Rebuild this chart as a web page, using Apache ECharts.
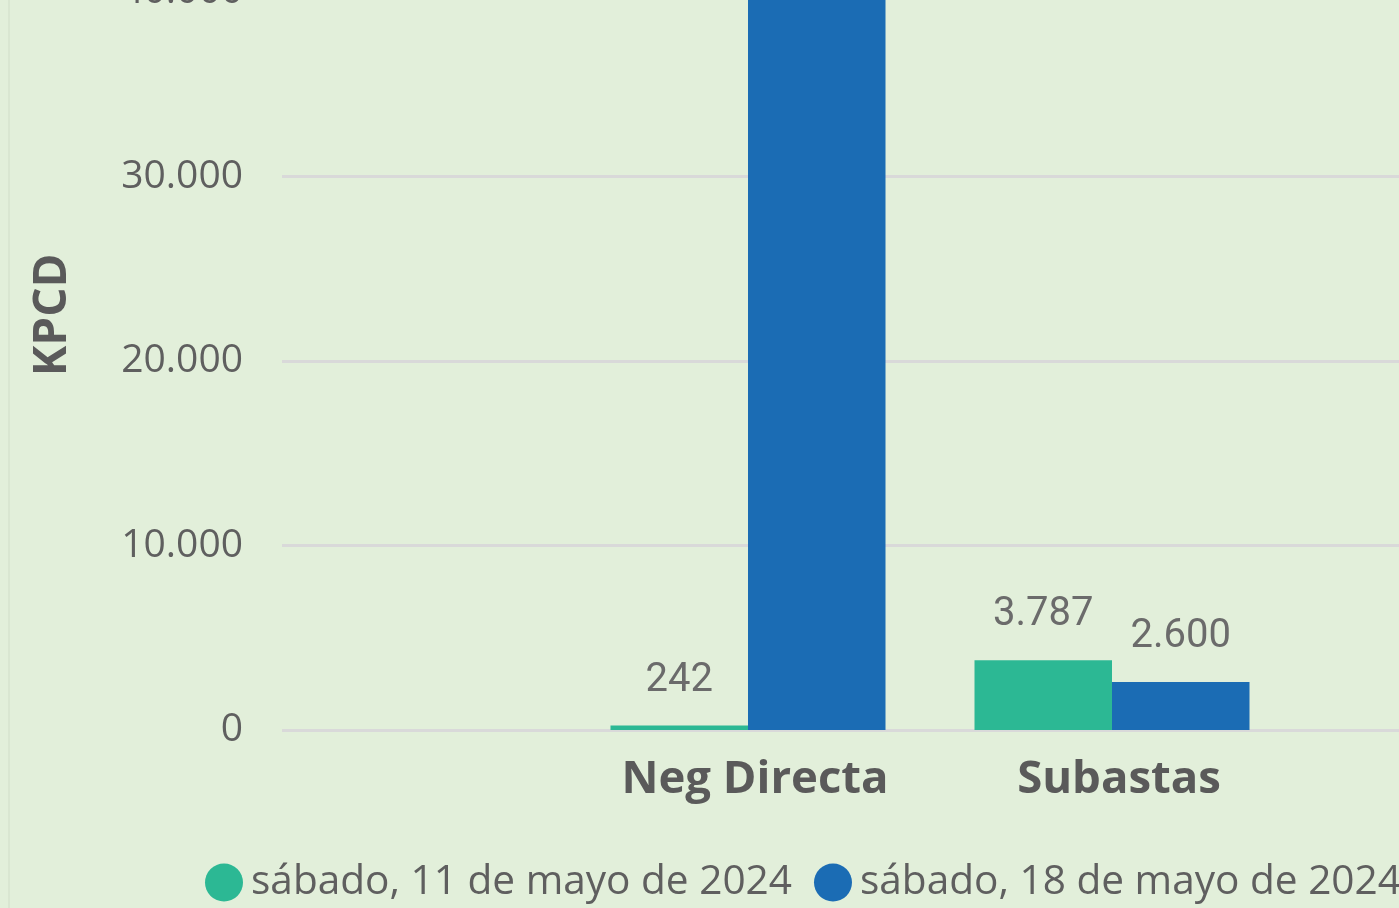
<!DOCTYPE html>
<html>
<head>
<meta charset="utf-8">
<script src="https://cdn.jsdelivr.net/npm/echarts@6/dist/echarts.min.js"></script>
<style>
  html, body { margin: 0; padding: 0; width: 1399px; height: 908px; overflow: hidden; background: #e2efda; position: relative; }
  #edge { position: absolute; left: 8px; top: 0; width: 2px; height: 908px; background: #d9e6d1; }
  #chart { position: absolute; left: 0; top: -200px; width: 1500px; height: 1108px; }
</style>
</head>
<body>
<div id="edge"></div>
<div id="chart"></div>
<script>
const categories = ['Neg Directa', 'Subastas'];
const seriesNames = ['sábado, 11 de mayo de 2024', 'sábado, 18 de mayo de 2024'];
const may11 = [242, 3787];
const may18 = [44500, 2600];
const yTicks = [0, 10000, 20000, 30000, 40000];

const fmt = v => String(v).replace(/\B(?=(\d{3})+(?!\d))/g, '.');

let myChart = echarts.init(document.getElementById('chart'));
const labelStyle = {
    show: true,
    position: 'top',
    distance: 25,
    fontFamily: 'Roboto',
    fontSize: 40,
    color: '#6b6b6b',
    formatter: p => fmt(p.value)
};
const option = {
    animation: false,
    grid: [
        { left: 282, right: 0, top: 99.75, bottom: 178 },
        { left: 566, right: 206, top: 99.75, bottom: 178 }
    ],
    legend: {
        left: 205,
        top: 1062,
        padding: 0,
        icon: 'circle',
        itemWidth: 38,
        itemHeight: 38,
        itemGap: 22,
        textStyle: { fontFamily: 'Open Sans', fontSize: 40.6, color: '#5f5f5f', padding: [0, 0, 0, 3] },
        data: seriesNames
    },
    xAxis: [
        { gridIndex: 0, type: 'category', data: [''], show: false },
        {
            gridIndex: 1, type: 'category', data: categories,
            axisLine: { show: false }, axisTick: { show: false },
            axisLabel: {
                fontFamily: 'Open Sans', fontWeight: 'bold', fontSize: 45.5, lineHeight: 50,
                color: '#5a5a5a', margin: 25, padding: [0, 0, 0, 14]
            }
        }
    ],
    yAxis: [
        {
            gridIndex: 0, type: 'value', min: 0, max: 45000, interval: 10000,
            name: 'KPCD', nameLocation: 'middle', nameGap: 206,
            nameTextStyle: { fontFamily: 'Open Sans', fontWeight: 'bold', fontSize: 46, color: '#5a5a5a' },
            axisLine: { show: false }, axisTick: { show: false },
            axisLabel: {
                fontFamily: 'Open Sans', fontSize: 39, color: '#5f5f5f', margin: 39,
                padding: [8, 0, 0, 0],
                formatter: v => yTicks.includes(v) ? fmt(v) : ''
            },
            splitLine: { lineStyle: { color: '#d9d9d9', width: 3 } }
        },
        { gridIndex: 1, type: 'value', min: 0, max: 45000, show: false, splitLine: { show: false } }
    ],
    series: [
        {
            name: seriesNames[0], type: 'bar', xAxisIndex: 1, yAxisIndex: 1,
            data: may11, barWidth: 137.5, barGap: '0%',
            itemStyle: { color: '#2cb894' }, label: labelStyle
        },
        {
            name: seriesNames[1], type: 'bar', xAxisIndex: 1, yAxisIndex: 1,
            data: may18, barWidth: 137.5, barGap: '0%',
            itemStyle: { color: '#1b6cb4' }, label: labelStyle
        }
    ]
};
myChart.setOption(option);
</script>
</body>
</html>
